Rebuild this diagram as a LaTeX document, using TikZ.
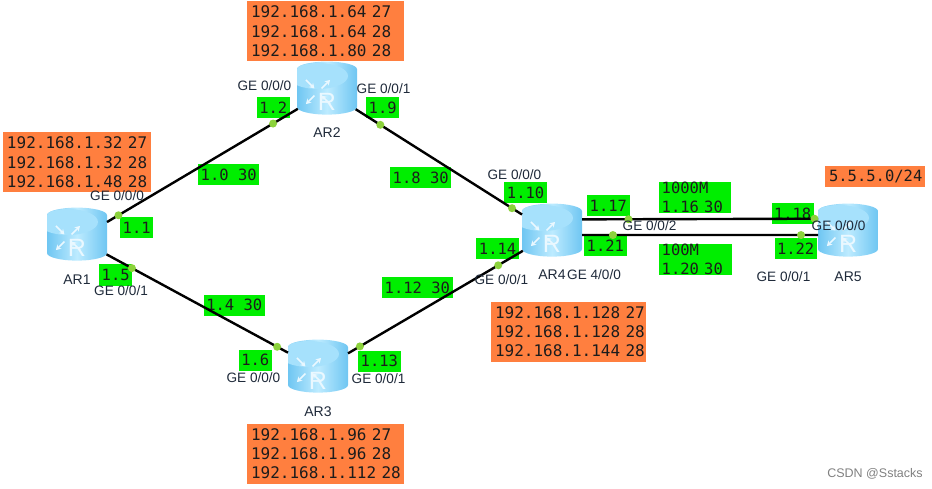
\documentclass[tikz,border=0pt]{standalone}
\usepackage{xcolor}
\usepackage{fontspec}
\setmainfont{Liberation Sans}
\setmonofont[WordSpace={1,0,0}]{DejaVu Sans Mono}
\usetikzlibrary{shapes.geometric, arrows.meta, positioning}
\definecolor{rlight}{HTML}{BDEBFF}
\definecolor{rside}{HTML}{6FC6F2}
\definecolor{rtop}{HTML}{A6E1FC}
\definecolor{rwhite}{HTML}{EAF8FF}
\definecolor{ipgreen}{HTML}{00EE00}
\definecolor{addrorange}{HTML}{FF7F3F}
\definecolor{dotgreen}{HTML}{8CD23C}
\definecolor{labelink}{HTML}{1F2A3A}
\definecolor{monoink}{HTML}{1C1C1C}
\newcommand{\routerR}{\smash{\raisebox{-19pt}{R}}}
\tikzset{
  router/.style={cylinder, shape border rotate=90, aspect=0.84, inner sep=0pt, outer sep=0pt,
                 minimum height=53pt, minimum width=60pt, left color=rside, right color=rside,
                 middle color=rlight, text=rwhite, font=\fontsize{25}{25}\selectfont,
                 path picture={
                   \fill[rtop] (0,16pt) ellipse (30pt and 13pt);
                   \begin{scope}[shift={(0,16pt)}, yscale=0.7]
                     \foreach \a/\p/\q in {45/5/17, 135/17/5, 225/5/17, 315/17/5}
                       \draw[-{Stealth[length=5pt,width=6pt]}, rwhite, line width=1.5pt] (\a:\p pt) -- (\a:\q pt);
                   \end{scope}
                 }},
  ipbox/.style={rectangle, fill=ipgreen, text=monoink, inner xsep=2.5pt, inner ysep=0pt,
                minimum height=21pt, align=left,
                font=\fontsize{15.5}{18.5}\selectfont\ttfamily},
  addr/.style={rectangle, fill=addrorange, text=monoink, inner xsep=4pt, inner ysep=0pt,
               minimum height=60pt, align=left, font=\fontsize{16}{19.3}\selectfont\ttfamily},
  link/.style={draw=black, line width=2.4pt},
  portdot/.style={circle, fill=dotgreen, inner sep=0pt, minimum size=8pt, pos=#1},
  ge/.style={inner sep=0pt, text=labelink, font=\fontsize{13.6}{14}\selectfont},
  rname/.style={inner sep=0pt, text=labelink, font=\fontsize{14}{14}\selectfont}
}
\begin{document}
\begin{tikzpicture}
  \useasboundingbox (0,0) rectangle (932pt,-489pt);

  \node[router] at (77pt,-238pt) (ar1) {\routerR};
  \node[router, right=190pt of ar1, yshift=146pt] (ar2) {\routerR};
  \node[router, right=181pt of ar1, yshift=-132pt] (ar3) {\routerR};
  \node[router, right=415pt of ar1, yshift=4pt] (ar4) {\routerR};
  \node[router, right=236pt of ar4] (ar5) {\routerR};

  \coordinate (c1) at ([yshift=3pt]ar1.center);
  \coordinate (c2) at ([yshift=3pt]ar2.center);
  \coordinate (c3) at ([yshift=3pt]ar3.center);
  \coordinate (c4) at ([yshift=3pt]ar4.center);
  \coordinate (c5) at ([yshift=3pt]ar5.center);

  \node[rname, below=14pt of ar1] (name1) {AR1};
  \node[rname, below=13pt of ar2] (name2) {AR2};
  \node[rname, below=14pt of ar3] (name3) {AR3};
  \node[rname, below=13pt of ar4] (name4) {AR4};
  \node[rname, below=15pt of ar5] (name5) {AR5};

  \node[addr, above=15pt of ar1, text width=140pt] (addr1) {192.168.1.32~27\\192.168.1.32~28\\192.168.1.48~28};
  \node[addr, above=0pt of ar2, xshift=-1.5pt, text width=149pt] (addr2) {192.168.1.64~27\\192.168.1.64~28\\192.168.1.80~28};
  \node[addr, below=31pt of ar3, xshift=7.5pt, text width=149pt] (addr3) {192.168.1.96~27\\192.168.1.96~28\\192.168.1.112~28};
  \node[addr, below=45pt of ar4, xshift=16.5pt, text width=147pt] (addr4) {192.168.1.128~27\\192.168.1.128~28\\192.168.1.144~28};
  \node[addr, above=16pt of ar5, xshift=27pt, text width=92pt, minimum height=21pt, font=\fontsize{15.5}{19}\selectfont\ttfamily] (addr5) {5.5.5.0/24};

  \node[ipbox, right=43pt of c1, yshift=7.5pt] (ip11) {1.1};
  \node[ipbox, right=22pt of c1, yshift=-40pt] (ip15) {1.5};
  \node[ipbox, right=121pt of c1, yshift=60pt] (net10) {1.0 30};
  \node[ipbox, left=37pt of c2, yshift=-18.5pt] (ip12) {1.2};
  \node[ipbox, right=39pt of c2, yshift=-19pt] (ip19) {1.9};
  \node[ipbox, right=63pt of c2, yshift=-88.5pt] (net18) {1.8 30};
  \node[ipbox, left=53pt of c3, yshift=62pt] (net14) {1.4 30};
  \node[ipbox, left=46pt of c3, yshift=7pt] (ip16) {1.6};
  \node[ipbox, right=40pt of c3, yshift=6pt] (ip113) {1.13};
  \node[ipbox, right=64pt of c3, yshift=79.5pt] (net112) {1.12 30};
  \node[ipbox, left=5pt of c4, yshift=38.5pt] (ip110) {1.10};
  \node[ipbox, left=33pt of c4, yshift=-17.5pt] (ip114) {1.14};
  \node[ipbox, right=35pt of c4, yshift=25pt] (ip117) {1.17};
  \node[ipbox, right=32pt of c4, yshift=-14.5pt] (ip121) {1.21};
  \node[ipbox, right=107pt of c4, yshift=33.5pt, text width=67pt] (net116) {1000M\\1.16 30};
  \node[ipbox, right=107pt of c4, yshift=-28.5pt, text width=68pt] (net120) {100M\\1.20 30};
  \node[ipbox, left=34pt of c5, yshift=17.5pt] (ip118) {1.18};
  \node[ipbox, left=31pt of c5, yshift=-17.5pt] (ip122) {1.22};

  \draw[link] (ar1.28) -- node[portdot=0.06] (p11) {} node[portdot=0.87] (p12) {} (ar2.210.6);
  \draw[link] (ar1.-29) -- node[portdot=0.14] (p15) {} node[portdot=0.94] (p16) {} (ar3.150.5);
  \draw[link] (ar2.-31.6) -- node[portdot=0.148] (p19) {} node[portdot=0.94] (p110) {} (ar4.147.7);
  \draw[link] (ar3.29.5) -- node[portdot=0.068] (p113) {} node[portdot=0.859] (p114) {} (ar4.210.6);
  \draw[link] (ar4.26.6) -- node[portdot=0.197] (p117) {} node[portdot=0.985] (p118) {} (ar5.153.4);
  \draw[link] (ar4.-2) -- node[portdot=0.131] (p121) {} node[portdot=0.928] (p122) {} (ar5.182);

  \node[ge, right=13pt of c1, yshift=39.5pt] (ge1a) {GE 0/0/0};
  \node[ge, right=17pt of c1, yshift=-56pt] (ge1b) {GE 0/0/1};
  \node[ge, left=35.5pt of c2, yshift=3pt] (ge2a) {GE 0/0/0};
  \node[ge, right=29.5pt of c2] (ge2b) {GE 0/0/1};
  \node[ge, left=37.5pt of c3, yshift=-11pt] (ge3a) {GE 0/0/0};
  \node[ge, right=33.5pt of c3, yshift=-12pt] (ge3b) {GE 0/0/1};
  \node[ge, left=10.5pt of c4, yshift=56pt] (ge4a) {GE 0/0/0};
  \node[ge, left=23.5pt of c4, yshift=-49pt] (ge4b) {GE 0/0/1};
  \node[ge, right=15pt of c4, yshift=-44pt] (ge4c) {GE 4/0/0};
  \node[ge, right=70.5pt of c4, yshift=5pt] (ge4d) {GE 0/0/2};
  \node[ge, right=-36.5pt of c5, yshift=5pt] (ge5a) {GE 0/0/0};
  \node[ge, left=37.5pt of c5, yshift=-46pt] (ge5b) {GE 0/0/1};

  \node[inner sep=0pt, text=gray, font=\fontsize{12.5}{13}\selectfont, below=212pt of ar5, xshift=27pt] (mark) {CSDN @Sstacks};
\end{tikzpicture}
\end{document}
